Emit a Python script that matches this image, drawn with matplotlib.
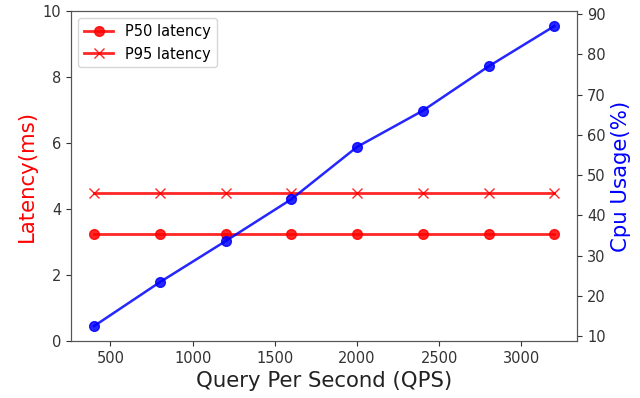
import matplotlib
matplotlib.use("Agg")
import matplotlib.pyplot as plt

# QPS sweep
qps = [400, 800, 1200, 1600, 2000, 2400, 2800, 3200]
p50_latency = [3.26, 3.26, 3.26, 3.26, 3.26, 3.26, 3.26, 3.26]
p95_latency = [4.5, 4.5, 4.5, 4.5, 4.5, 4.5, 4.5, 4.5]
cpu_usage = [12.5, 23.4, 33.6, 44.0, 57.0, 66.0, 77.0, 87.0]

fig = plt.figure(figsize=(6.4, 3.98), dpi=100)
ax1 = fig.add_axes([0.111, 0.143, 0.791, 0.829])

ax1.plot(qps, p50_latency, color="red", marker="o", markersize=7, linewidth=2, alpha=0.85, label="P50 latency")
ax1.plot(qps, p95_latency, color="red", marker="x", markersize=7, linewidth=2, alpha=0.85, label="P95 latency")
ax1.set_ylim(0, 10)
ax1.set_xlabel("Query Per Second (QPS)", fontsize=15.3, color="#222222")
ax1.set_ylabel("Latency(ms)", fontsize=15.3, color="red")
ax1.legend(loc="upper left", fontsize=10.5)

ax2 = ax1.twinx()
ax2.plot(qps, cpu_usage, color="blue", marker="o", markersize=7, linewidth=1.8, alpha=0.85)
ax2.set_ylabel("Cpu Usage(%)", fontsize=15.3, color="blue")

for ax in (ax1, ax2):
    ax.tick_params(labelsize=10.5, colors="#333333")
    for s in ax.spines.values():
        s.set_color("#555555")

plt.savefig("out.png", dpi=100)
